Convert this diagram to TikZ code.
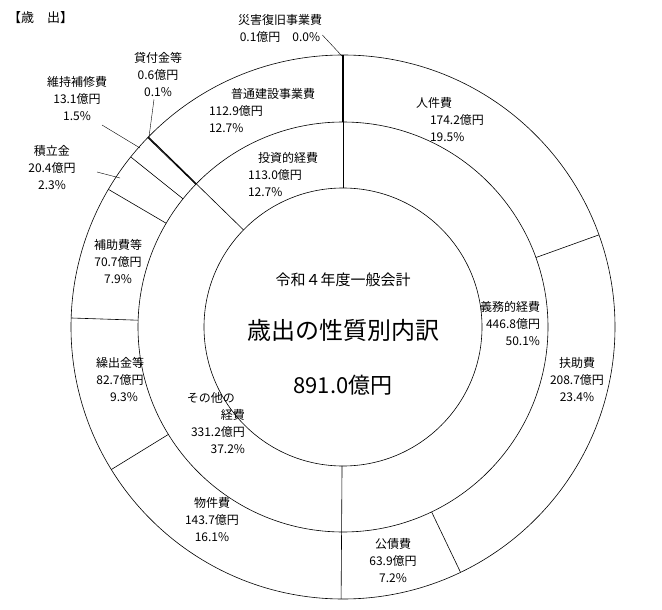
\documentclass[tikz,border=0pt]{standalone}
\usepackage{fontspec}
\setmainfont{Noto Sans CJK JP}
\usetikzlibrary{calc}
\begin{document}
\begin{tikzpicture}[x=1pt,y=-1pt,
  lbl/.style={font=\fontsize{12}{17}\selectfont,inner sep=0pt,align=center},
  ring/.style={line width=0.6pt},
  lead/.style={line width=0.4pt}]
\useasboundingbox[fill=white] (0,0) rectangle (662,610);
\coordinate (c) at (343,327);
\def\rOut{272}\def\rMid{205}\def\rIn{139}
\draw[ring] (c) circle[radius=\rOut];
\draw[ring] (c) circle[radius=\rMid];
\draw[ring] (c) circle[radius=\rIn];
\foreach \a in {0,180.4,314.3}{
  \draw[ring] ($(c)+({cos(90-\a)*\rIn},{-sin(90-\a)*\rIn})$) -- ($(c)+({cos(90-\a)*\rMid},{-sin(90-\a)*\rMid})$);}
\foreach \a in {70.2,154.4,180.4,238.4,271.9,300.4,308.7,314.1}{
  \draw[ring] ($(c)+({cos(90-\a)*\rMid},{-sin(90-\a)*\rMid})$) -- ($(c)+({cos(90-\a)*\rOut},{-sin(90-\a)*\rOut})$);}
\draw[line width=1.1pt] ($(c)+({cos(90-314.3)*\rMid},{-sin(90-314.3)*\rMid})$) -- ($(c)+({cos(90-314.3)*\rOut},{-sin(90-314.3)*\rOut})$);
\draw[line width=1.1pt] ($(c)+(0,-\rMid)$) -- ($(c)+(0,-\rOut)$);
\node[lbl,font=\fontsize{13}{15}\selectfont,anchor=west] (t) at (8,18) {【歳　出】};
\node[lbl] (s1) at (280,20) {災害復旧事業費};
\node[lbl] (s2) at (280,37) {0.1億円　0.0\%};
\coordinate (s3) at (342,56);
\draw[lead] (s2.east) ++(2,-2) -- (s3);
\node[lbl] (k1) at (158,75) {貸付金等\\0.6億円\\0.1\%};
\coordinate (k2) at (149,137);
\draw[lead] (k1.south) ++(-4,2) -- (k2);
\node[lbl] (m1) at (77,99) {維持補修費\\13.1億円\\1.5\%};
\coordinate (m2) at (140,148);
\draw[lead] (102,125) -- (m2);
\node[lbl] (j1) at (52,168) {積立金\\20.4億円\\2.3\%};
\coordinate (j2) at (120,178);
\draw[lead] (97,172) -- (j2);
\node[lbl,align=left] (f) at (262,111) {\hspace*{22pt}普通建設事業費\\112.9億円\\12.7\%};
\node[lbl,align=left] (h) at (450,120) {人件費\\\hspace*{14pt}174.2億円\\\hspace*{14pt}19.5\%};
\node[lbl,align=left] (z) at (283,175) {\hspace*{10pt}投資的経費\\113.0億円\\12.7\%};
\node[lbl] (ho) at (118,262) {補助費等\\70.7億円\\7.9\%};
\node[lbl,font=\fontsize{15}{17}\selectfont] (g1) at (343,280) {令和４年度一般会計};
\node[lbl,font=\fontsize{24}{26}\selectfont] (g2) at (343,330) {歳出の性質別内訳};
\node[lbl,font=\fontsize{22}{24}\selectfont] (g3) at (343,385) {891.0億円};
\node[lbl,align=right] (gi) at (510,324) {義務的経費\\446.8億円\\50.1\%};
\node[lbl] (fu) at (577,380) {扶助費\\208.7億円\\23.4\%};
\node[lbl] (ku) at (120,380) {繰出金等\\82.7億円\\\hspace*{8pt}9.3\%};
\node[lbl,align=right] (so) at (203,423) {その他の\hspace*{10pt}\\経費\hspace*{3pt}\\\hspace*{30pt}331.2億円\\37.2\%};
\node[lbl] (bu) at (212,520) {物件費\\143.7億円\\16.1\%};
\node[lbl] (ko) at (393,561) {公債費\\63.9億円\\7.2\%};
\end{tikzpicture}
\end{document}
